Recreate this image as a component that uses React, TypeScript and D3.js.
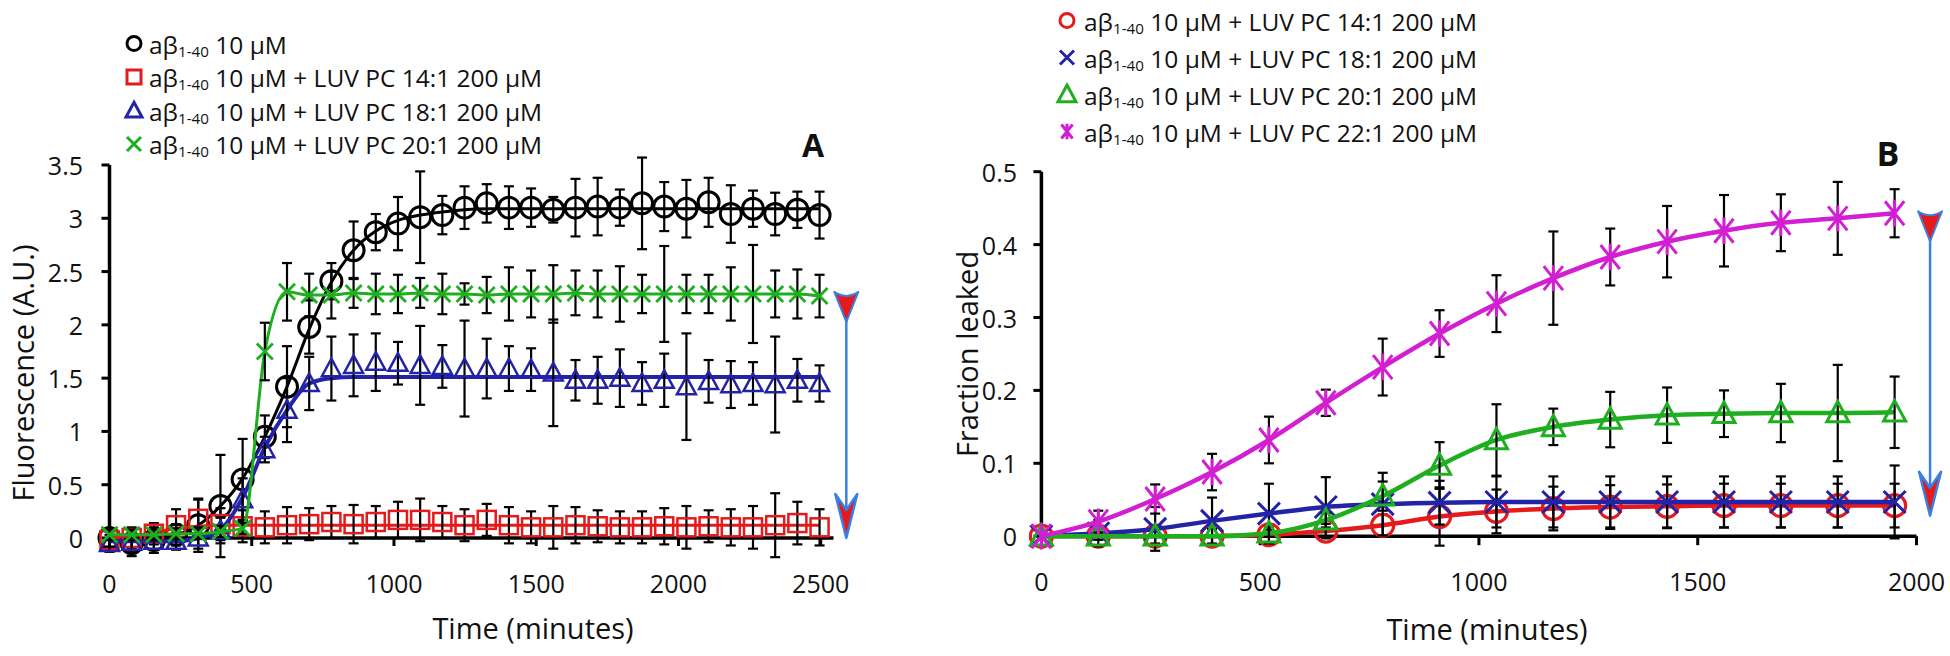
import React from "react";
import * as d3 from "d3";

// ---------- Panel A data ----------
const timeA = [0, 78, 156, 234, 312, 390, 468, 546, 624, 702, 780, 858, 936, 1014, 1092, 1170, 1248, 1326, 1404, 1482, 1560, 1638, 1716, 1794, 1872, 1950, 2028, 2106, 2184, 2262, 2340, 2418, 2496];
const blackA = [0.0, -0.05, -0.02, 0.03, 0.12, 0.3, 0.55, 0.95, 1.42, 1.98, 2.41, 2.7, 2.87, 2.95, 3.01, 3.03, 3.1, 3.14, 3.1, 3.1, 3.08, 3.1, 3.11, 3.1, 3.14, 3.11, 3.09, 3.15, 3.04, 3.09, 3.04, 3.08, 3.03];
const blackAErr = [0.08, 0.12, 0.12, 0.1, 0.25, 0.48, 0.38, 0.2, 0.38, 0.25, 0.17, 0.27, 0.17, 0.25, 0.43, 0.18, 0.2, 0.18, 0.2, 0.18, 0.12, 0.27, 0.27, 0.17, 0.43, 0.23, 0.27, 0.23, 0.27, 0.17, 0.2, 0.17, 0.22];
const blackAFit = [0.0, 0.0, 0.0, 0.03, 0.12, 0.3, 0.56, 0.95, 1.42, 1.96, 2.4, 2.7, 2.88, 2.98, 3.03, 3.06, 3.08, 3.09, 3.09, 3.09, 3.09, 3.09, 3.09, 3.09, 3.09, 3.09, 3.09, 3.09, 3.09, 3.09, 3.09, 3.09, 3.09];
const redA = [-0.02, 0.0, 0.04, 0.12, 0.18, 0.13, 0.11, 0.1, 0.12, 0.13, 0.15, 0.13, 0.15, 0.17, 0.17, 0.15, 0.12, 0.17, 0.12, 0.1, 0.1, 0.12, 0.11, 0.1, 0.1, 0.11, 0.1, 0.11, 0.1, 0.1, 0.12, 0.14, 0.1];
const redAErr = [0.08, 0.1, 0.1, 0.15, 0.18, 0.15, 0.15, 0.15, 0.17, 0.15, 0.15, 0.18, 0.15, 0.17, 0.2, 0.15, 0.15, 0.15, 0.17, 0.15, 0.2, 0.17, 0.15, 0.15, 0.15, 0.17, 0.2, 0.15, 0.17, 0.2, 0.3, 0.2, 0.17];
const redAFit = [0.0, 0.02, 0.05, 0.09, 0.11, 0.12, 0.12, 0.12, 0.12, 0.12, 0.12, 0.12, 0.12, 0.12, 0.12, 0.12, 0.12, 0.12, 0.12, 0.12, 0.12, 0.12, 0.12, 0.12, 0.12, 0.12, 0.12, 0.12, 0.12, 0.12, 0.12, 0.12, 0.12];
const blueA = [-0.05, -0.04, -0.03, -0.03, 0.0, 0.07, 0.36, 0.83, 1.2, 1.45, 1.59, 1.62, 1.65, 1.64, 1.62, 1.61, 1.59, 1.59, 1.59, 1.58, 1.55, 1.48, 1.48, 1.5, 1.45, 1.48, 1.42, 1.47, 1.44, 1.45, 1.44, 1.48, 1.45];
const blueAErr = [0.08, 0.08, 0.08, 0.08, 0.1, 0.12, 0.2, 0.12, 0.3, 0.25, 0.3, 0.29, 0.27, 0.2, 0.37, 0.2, 0.45, 0.28, 0.21, 0.2, 0.5, 0.19, 0.22, 0.27, 0.2, 0.25, 0.5, 0.2, 0.22, 0.2, 0.45, 0.2, 0.17];
const blueAFit = [-0.03, -0.03, -0.03, -0.03, 0.0, 0.08, 0.38, 0.85, 1.2, 1.45, 1.5, 1.51, 1.51, 1.51, 1.51, 1.51, 1.51, 1.51, 1.51, 1.51, 1.51, 1.51, 1.51, 1.51, 1.51, 1.51, 1.51, 1.51, 1.51, 1.51, 1.51, 1.51, 1.51];
const greenA = [0.03, 0.03, 0.03, 0.04, 0.04, 0.06, 0.09, 1.75, 2.31, 2.28, 2.28, 2.3, 2.29, 2.29, 2.3, 2.29, 2.29, 2.28, 2.29, 2.29, 2.29, 2.3, 2.29, 2.29, 2.29, 2.29, 2.29, 2.29, 2.29, 2.29, 2.29, 2.29, 2.27];
const greenAErr = [0.05, 0.05, 0.05, 0.05, 0.05, 0.05, 0.05, 0.27, 0.27, 0.2, 0.22, 0.14, 0.19, 0.18, 0.14, 0.19, 0.1, 0.17, 0.25, 0.22, 0.27, 0.21, 0.22, 0.26, 0.18, 0.45, 0.18, 0.18, 0.25, 0.46, 0.22, 0.23, 0.2];

// ---------- Panel B data ----------
const timeB = [0, 130, 260, 390, 520, 650, 780, 910, 1040, 1170, 1300, 1430, 1560, 1690, 1820, 1950];
const redB = [0, 0, 0, 0, 0.002, 0.007, 0.015, 0.027, 0.034, 0.038, 0.04, 0.041, 0.042, 0.042, 0.042, 0.042];
const redBErr = [0, 0.005, 0.01, 0.01, 0.01, 0.01, 0.015, 0.04, 0.03, 0.03, 0.03, 0.03, 0.03, 0.03, 0.03, 0.03];
const blueB = [0, 0.004, 0.01, 0.021, 0.031, 0.04, 0.044, 0.046, 0.047, 0.047, 0.047, 0.047, 0.047, 0.047, 0.047, 0.047];
const blueBErr = [0, 0.018, 0.03, 0.032, 0.041, 0.041, 0.043, 0.03, 0.035, 0.035, 0.035, 0.035, 0.035, 0.035, 0.035, 0.05];
const greenB = [0, 0, 0, 0, 0.004, 0.022, 0.055, 0.097, 0.132, 0.15, 0.16, 0.166, 0.168, 0.169, 0.169, 0.17];
const greenBErr = [0, 0, 0, 0, 0.005, 0.01, 0.02, 0.032, 0.049, 0.025, 0.038, 0.038, 0.032, 0.04, 0.066, 0.049];
const magentaB = [0, 0.02, 0.051, 0.088, 0.132, 0.183, 0.232, 0.278, 0.319, 0.354, 0.383, 0.404, 0.419, 0.43, 0.436, 0.443];
const magentaBErr = [0, 0.015, 0.02, 0.025, 0.032, 0.018, 0.039, 0.032, 0.039, 0.064, 0.039, 0.049, 0.049, 0.039, 0.05, 0.033];

// ---------- ticks & labels ----------
const ticksAX = [0, 500, 1000, 1500, 2000, 2500];
const ticksAY = [0, 0.5, 1, 1.5, 2, 2.5, 3, 3.5];
const ticksBX = [0, 500, 1000, 1500, 2000];
const ticksBY = [0, 0.1, 0.2, 0.3, 0.4, 0.5];
const legendA = [" 10 μM", " 10 μM + LUV PC 14:1 200 μM", " 10 μM + LUV PC 18:1 200 μM", " 10 μM + LUV PC 20:1 200 μM"];
const legendB = [" 10 μM + LUV PC 14:1 200 μM", " 10 μM + LUV PC 18:1 200 μM", " 10 μM + LUV PC 20:1 200 μM", " 10 μM + LUV PC 22:1 200 μM"];
const arrowA = { t: 2590, from: 2.29, to: 0 };
const arrowB = { t: 2031, from: 0.443, to: 0.028 };

const BLACK = "#000000";
const RED = "#e41a1c";
const BLUE = "#2323a8";
const GREEN = "#1fae1f";
const MAGENTA = "#d21fd2";
const ARROW = "#3b7fe0";
const FONT = "'Open Sans', 'Noto Sans', sans-serif";

type MType = "circle" | "square" | "triangle" | "x" | "star";

function Marker({ type, x, y, s, color, sw }: { type: MType; x: number; y: number; s: number; color: string; sw: number }) {
  if (type === "circle") return <circle cx={x} cy={y} r={s} fill="none" stroke={color} strokeWidth={sw} />;
  if (type === "square") return <rect x={x - s} y={y - s} width={2 * s} height={2 * s} fill="none" stroke={color} strokeWidth={sw} />;
  if (type === "triangle")
    return <path d={`M${x},${y - s * 1.05}L${x + s},${y + s * 0.8}L${x - s},${y + s * 0.8}Z`} fill="none" stroke={color} strokeWidth={sw} strokeLinejoin="miter" />;
  if (type === "x") return <path d={`M${x - s},${y - s}L${x + s},${y + s}M${x - s},${y + s}L${x + s},${y - s}`} stroke={color} strokeWidth={sw} fill="none" />;
  return (
    <path
      d={`M${x - s * 0.8},${y - s}L${x + s * 0.8},${y + s}M${x - s * 0.8},${y + s}L${x + s * 0.8},${y - s}M${x},${y - s * 1.1}L${x},${y + s * 1.1}`}
      stroke={color}
      strokeWidth={sw}
      fill="none"
    />
  );
}

function Series({
  t, v, err, fit, xs, ys, color, type, s, sw, lw,
}: {
  t: number[]; v: number[]; err: number[]; fit?: number[]; xs: any; ys: any; color: string; type: MType; s: number; sw: number; lw: number;
}) {
  const lineVals = fit || v;
  const line = d3
    .line<number>()
    .x((_, i) => xs(t[i]))
    .y((d) => ys(d))
    .curve(d3.curveMonotoneX);
  return (
    <g>
      <path d={line(lineVals) || ""} fill="none" stroke={color} strokeWidth={lw} strokeLinejoin="round" />
      {t.map((tt, i) =>
        err[i] > 0 ? (
          <g key={"e" + i} stroke={BLACK} strokeWidth={2.2}>
            <line x1={xs(tt)} x2={xs(tt)} y1={ys(v[i] - err[i])} y2={ys(v[i] + err[i])} />
            <line x1={xs(tt) - 5} x2={xs(tt) + 5} y1={ys(v[i] - err[i])} y2={ys(v[i] - err[i])} />
            <line x1={xs(tt) - 5} x2={xs(tt) + 5} y1={ys(v[i] + err[i])} y2={ys(v[i] + err[i])} />
          </g>
        ) : null
      )}
      {t.map((tt, i) => (
        <Marker key={"m" + i} type={type} x={xs(tt)} y={ys(v[i])} s={s} color={color} sw={sw} />
      ))}
    </g>
  );
}

function LegendText({ x, y, rest, size }: { x: number; y: number; rest: string; size: number }) {
  return (
    <text x={x} y={y} fontSize={size} fontFamily={FONT} fill="#111" dominantBaseline="central">
      <tspan>aβ</tspan>
      <tspan fontSize={size * 0.62} dy={7}>1-40</tspan>
      <tspan dy={-7}>{rest}</tspan>
    </text>
  );
}

function Arrow({ x, y1, y2 }: { x: number; y1: number; y2: number }) {
  return (
    <g>
      <line x1={x} x2={x} y1={y1 + 20} y2={y2 - 20} stroke={ARROW} strokeWidth={2.5} />
      <path d={`M${x - 12},${y1 - 2}Q${x},${y1 + 6} ${x + 12},${y1 - 2}L${x},${y1 + 28}Z`} fill={RED} stroke={ARROW} strokeWidth={2} strokeLinejoin="round" />
      <path d={`M${x},${y2}L${x - 11},${y2 - 44}L${x},${y2 - 28}L${x + 11},${y2 - 44}Z`} fill={RED} stroke={ARROW} strokeWidth={2.5} strokeLinejoin="round" />
    </g>
  );
}

export default function App() {
  const xA = d3.scaleLinear().domain([0, 2500]).range([109.5, 820.7]);
  const yA = d3.scaleLinear().domain([0, 3.5]).range([538, 165]);
  const xB = d3.scaleLinear().domain([0, 2000]).range([1041.4, 1916.5]);
  const yB = d3.scaleLinear().domain([0, 0.5]).range([536.2, 171.7]);

  const tickFs = 25;
  const legFs = 24.5;
  const titleFs = 29;

  const aMarkers: MType[] = ["circle", "square", "triangle", "x"];
  const aColors = [BLACK, RED, BLUE, GREEN];
  const bMarkers: MType[] = ["circle", "x", "triangle", "star"];
  const bColors = [RED, BLUE, GREEN, MAGENTA];
  const legARows = [43.5, 77, 110.7, 144];
  const legBRows = [20.5, 57.5, 94.5, 131.5];

  return (
    <svg width={1950} height={656} style={{ position: "absolute", left: 0, top: 0, background: "#fff" }}>
      <rect width={1950} height={656} fill="#fff" />
      {/* ---------------- Panel A ---------------- */}
      <g>
        <line x1={xA(0)} x2={xA(0)} y1={yA(3.5)} y2={yA(0) + 2} stroke={BLACK} strokeWidth={3.5} />
        {ticksAY.map((v) => (
          <g key={"ay" + v}>
            <line x1={xA(0) - 8} x2={xA(0)} y1={yA(v)} y2={yA(v)} stroke={BLACK} strokeWidth={3} />
            <text x={83} y={yA(v)} textAnchor="end" dominantBaseline="central" fontSize={tickFs} fontFamily={FONT} fill="#111">
              {v}
            </text>
          </g>
        ))}
        <line x1={xA(0)} x2={xA(2545)} y1={yA(0)} y2={yA(0)} stroke={BLACK} strokeWidth={3.5} />
        {ticksAX.map((v) => (
          <g key={"ax" + v}>
            <line x1={xA(v)} x2={xA(v)} y1={yA(0)} y2={yA(0) + 8} stroke={BLACK} strokeWidth={3} />
            <text x={xA(v)} y={583} textAnchor="middle" dominantBaseline="central" fontSize={tickFs} fontFamily={FONT} fill="#111">
              {v}
            </text>
          </g>
        ))}
        <text x={533} y={627} textAnchor="middle" dominantBaseline="central" fontSize={titleFs} fontFamily={FONT} fill="#111">
          Time (minutes)
        </text>
        <text transform="translate(22,373) rotate(-90)" textAnchor="middle" dominantBaseline="central" fontSize={titleFs} fontFamily={FONT} fill="#111">
          Fluorescence (A.U.)
        </text>
        <text x={813} y={144} textAnchor="middle" dominantBaseline="central" fontSize={32} fontWeight="bold" fontFamily={FONT} fill="#111">
          A
        </text>

        <Series t={timeA} v={blackA} err={blackAErr} fit={blackAFit} xs={xA} ys={yA} color={BLACK} type="circle" s={10.5} sw={3} lw={3} />
        <Series t={timeA} v={redA} err={redAErr} fit={redAFit} xs={xA} ys={yA} color={RED} type="square" s={9} sw={2.5} lw={3} />
        <Series t={timeA} v={blueA} err={blueAErr} fit={blueAFit} xs={xA} ys={yA} color={BLUE} type="triangle" s={9.5} sw={2.5} lw={4} />
        <Series t={timeA} v={greenA} err={greenAErr} xs={xA} ys={yA} color={GREEN} type="x" s={8} sw={2.8} lw={3} />

        <Arrow x={xA(arrowA.t)} y1={yA(arrowA.from)} y2={yA(arrowA.to)} />

        {legendA.map((txt, i) => (
          <g key={"la" + i}>
            <Marker type={aMarkers[i]} x={134} y={legARows[i]} s={aMarkers[i] === "triangle" ? 8 : 7} color={aColors[i]} sw={3} />
            <LegendText x={149} y={legARows[i]} rest={txt} size={legFs} />
          </g>
        ))}
      </g>

      {/* ---------------- Panel B ---------------- */}
      <g>
        <line x1={xB(0)} x2={xB(0)} y1={yB(0.5)} y2={yB(0) + 4} stroke={BLACK} strokeWidth={3.5} />
        {ticksBY.map((v) => (
          <g key={"by" + v}>
            <line x1={xB(0) - 8} x2={xB(0)} y1={yB(v)} y2={yB(v)} stroke={BLACK} strokeWidth={3} />
            <text x={1017} y={yB(v)} textAnchor="end" dominantBaseline="central" fontSize={tickFs} fontFamily={FONT} fill="#111">
              {v}
            </text>
          </g>
        ))}
        <line x1={xB(0)} x2={xB(2000)} y1={yB(0)} y2={yB(0)} stroke={BLACK} strokeWidth={3.5} />
        {ticksBX.map((v) => (
          <g key={"bx" + v}>
            <line x1={xB(v)} x2={xB(v)} y1={yB(0)} y2={yB(0) + 9} stroke={BLACK} strokeWidth={3} />
            <text x={xB(v)} y={581} textAnchor="middle" dominantBaseline="central" fontSize={tickFs} fontFamily={FONT} fill="#111">
              {v}
            </text>
          </g>
        ))}
        <text x={1487} y={628} textAnchor="middle" dominantBaseline="central" fontSize={titleFs} fontFamily={FONT} fill="#111">
          Time (minutes)
        </text>
        <text transform="translate(966,354) rotate(-90)" textAnchor="middle" dominantBaseline="central" fontSize={titleFs} fontFamily={FONT} fill="#111">
          Fraction leaked
        </text>
        <text x={1888} y={153} textAnchor="middle" dominantBaseline="central" fontSize={34} fontWeight="bold" fontFamily={FONT} fill="#111">
          B
        </text>

        <Series t={timeB} v={redB} err={redBErr} xs={xB} ys={yB} color={RED} type="circle" s={11} sw={3.2} lw={4.5} />
        <Series t={timeB} v={blueB} err={blueBErr} xs={xB} ys={yB} color={BLUE} type="x" s={11} sw={3} lw={4.5} />
        <Series t={timeB} v={greenB} err={greenBErr} xs={xB} ys={yB} color={GREEN} type="triangle" s={11} sw={3} lw={4.5} />
        <Series t={timeB} v={magentaB} err={magentaBErr} xs={xB} ys={yB} color={MAGENTA} type="star" s={12} sw={3} lw={4.5} />

        <Arrow x={xB(arrowB.t)} y1={yB(arrowB.from)} y2={yB(arrowB.to)} />

        {legendB.map((txt, i) => (
          <g key={"lb" + i}>
            <Marker type={bMarkers[i]} x={1067} y={legBRows[i]} s={bMarkers[i] === "triangle" ? 9 : 7} color={bColors[i]} sw={3} />
            <LegendText x={1084} y={legBRows[i]} rest={txt} size={legFs} />
          </g>
        ))}
      </g>
    </svg>
  );
}
